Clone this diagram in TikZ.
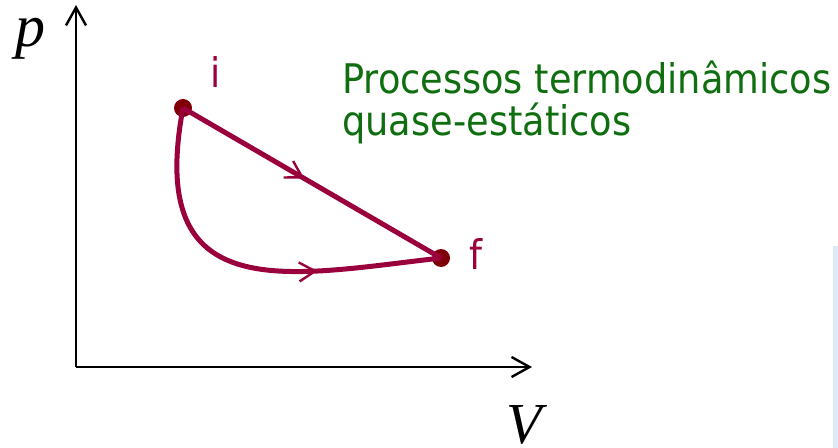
\documentclass[tikz,border=0pt]{standalone}
\usepackage{fontspec}
\setmainfont{Liberation Serif}
\newfontfamily\slidefont{DejaVu Sans Condensed}
\usetikzlibrary{arrows.meta, decorations.markings}
\definecolor{pathred}{RGB}{153,0,60}
\definecolor{dotred}{RGB}{128,0,10}
\definecolor{textgreen}{RGB}{15,110,15}
\definecolor{stripblue}{RGB}{220,234,248}

\begin{document}
\begin{tikzpicture}[x=0.5pt, y=-0.5pt,
  axis/.style={line width=1.2pt, -{Straight Barb[length=9pt, width=10pt, line width=1.2pt]}},
  process/.style={pathred, line width=2.5pt},
  midarrow/.style={postaction={decorate}, decoration={markings,
    mark=at position #1 with {\arrow{Straight Barb[length=8pt, width=9.5pt, line width=1.2pt]}}}},
  slidetext/.style={font=\slidefont\fontsize{20.4}{21}\selectfont}]
  \useasboundingbox (0,0) rectangle (838,448);
  \fill[stripblue] (833,246) rectangle (838,448);

  % eixos
  \coordinate (O) at (76,367);
  \coordinate (ptop) at (76,5);
  \coordinate (vend) at (532,367);
  \draw[axis] (O) -- (ptop);
  \draw[axis] (O) -- (vend);
  \node[font=\fontsize{30}{30}\selectfont\itshape, anchor=base] (plabel) at (30,47) {p};
  \node[font=\fontsize{29}{30}\selectfont\itshape, anchor=base, inner sep=0pt] (vlabel) at (524,443) {V};

  % estados inicial e final
  \coordinate (i) at (183,108);
  \coordinate (f) at (441,258);
  \fill[dotred] (i) circle (4.5pt);
  \fill[dotred] (f) circle (4.5pt);

  % dois caminhos
  \draw[process, midarrow=0.47] (i) -- (f);
  \draw[process, midarrow=0.68] (i) .. controls (145,310) and (290,275) .. (f);

  \node[slidetext, pathred, anchor=base] (ilabel) at (216,88) {i};
  \node[slidetext, pathred, anchor=base] (flabel) at (476,270) {f};
  \node[slidetext, textgreen, anchor=base west, align=left, inner sep=0pt] (title) at (342,136)
    {Processos termodinâmicos\\quase-estáticos};
\end{tikzpicture}
\end{document}
